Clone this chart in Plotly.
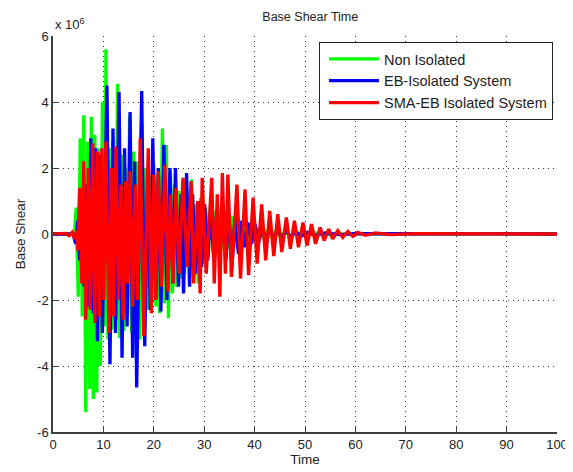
import plotly.graph_objects as go

# ---- data (values in units of 1e6) ----
t_non = [0, 3.8, 4.3, 4.6, 5.0, 5.4, 5.8, 6.1, 6.5, 6.9, 7.3, 7.6, 8.0, 8.3, 8.7, 9.0, 9.4, 9.8, 10.2,
         10.5, 10.9, 11.3, 11.7, 12.1, 12.5, 12.8, 13.2, 13.6, 14.0, 14.4, 14.8, 15.2, 15.6, 16.0, 16.4,
         16.8, 17.2, 17.6, 18.0, 18.4, 18.8, 19.2, 19.6, 20.0, 20.4, 20.8, 21.2, 21.7, 22.1, 22.5, 22.9,
         23.3, 23.7, 24.1, 24.5, 24.9, 25.3, 25.7, 26.1, 26.5, 27.0, 27.5, 27.9, 28.4, 28.8, 29.3, 29.8,
         30.3, 30.8, 31.3, 31.8, 32.3, 32.8, 33.4, 33.9, 34.4, 34.9, 35.4, 35.9, 36.5, 37.0, 37.5, 38.0,
         38.6, 39.1, 39.6, 40.2, 41.0, 41.7, 42.5, 43.3, 44.2, 45.0, 46.0, 47.0, 48.0, 50.0, 52.0, 55.0,
         60.0, 100.0]
v_non = [0, 0, 0.1, 0.8, -1.9, 2.9, -2.5, 3.6, -5.4, 2.8, -4.7, 3.55, -5.0, 3.0, -4.8, 2.6, -4.0, 4.0, -2.8,
         5.6, -3.2, 2.6, -2.9, 2.2, -2.6, 4.55, -3.15, 2.4, -2.95, 2.0, -2.4, 3.6, -3.0, 2.5, -2.7,
         2.2, -3.2, 3.3, -2.6, 2.0, -2.3, 1.8, -2.0, 2.1, -2.2, 1.8, -2.4, 3.2, -2.1, 2.7, -2.55,
         1.9, -1.8, 1.5, -1.6, 1.3, -1.33, 1.6, -1.2, 1.3, -1.0, 1.65, -1.3, 0.9, -1.5, 1.1, -0.9,
         0.8, -0.7, 0.9, -0.6, 0.7, -0.5, 0.9, -0.5, 0.5, -0.45, 0.55, -0.4, 0.6, -0.45, 0.4, -0.3,
         0.3, -0.35, 0.25, -0.2, 0.18, -0.15, 0.13, -0.12, 0.1, -0.08, 0.07, -0.06, 0.05, -0.04, 0.03, -0.02,
         0.01, 0]

t_eb = [0, 4.0, 4.5, 4.9, 5.3, 5.8, 6.2, 6.7, 7.1, 7.5, 8.0, 8.4, 8.8, 9.3, 9.8, 10.7, 11.3, 11.9, 12.4,
        13.1, 13.7, 14.2, 14.7, 15.3, 15.8, 16.2, 16.6, 17.6, 18.2, 18.8, 19.3, 19.8, 20.4, 20.9, 21.4,
        22.0, 22.6, 23.2, 23.8, 24.3, 24.9, 25.4, 25.9, 26.5, 27.1, 27.7, 28.3, 28.9, 29.5, 30.1, 30.7,
        31.3, 31.9, 32.5, 33.1, 33.7, 34.3, 34.9, 35.5, 36.1, 36.8, 37.4, 38.0, 38.7, 39.4, 40.1, 40.8,
        41.5, 42.2, 43.0, 43.8, 44.6, 45.4, 46.3, 47.2, 48.2, 49.2, 50.5, 52.0, 54.0, 57.0, 60.0, 100.0]
v_eb = [0, 0, -0.3, 0.4, -0.8, 0.6, -1.6, 1.5, -2.2, 2.9, -2.4, 2.6, -3.25, 2.4, -3.0, 4.5, -3.95, 3.2, -3.0,
        4.3, -3.75, 2.6, -2.8, 3.7, -3.75, 2.2, -4.65, 4.33, -3.4, 2.0, -2.3, 2.9, -2.0, 2.0, -2.35,
        2.7, -2.0, 2.0, -1.5, 2.0, -1.6, 1.2, -1.8, 1.85, -1.6, 1.2, -1.2, 1.0, -1.0, 0.9, -0.8,
        0.8, -0.8, 0.7, -0.6, 0.7, -0.8, 0.6, -1.0, 0.5, -0.6, 0.4, -0.4, 0.35, -0.3, 0.3, -0.25,
        0.22, -0.2, 0.18, -0.15, 0.15, -0.12, 0.1, -0.1, 0.08, -0.07, 0.05, -0.04, 0.03, -0.02, 0.01, 0]

t_sma = [0, 2.5, 3.2, 3.8, 4.3, 4.7, 4.9, 5.3, 5.7, 6.1, 6.5, 7.0, 7.4, 7.9, 8.3, 8.8, 9.2, 9.7, 10.1,
         10.5, 11.1, 11.6, 12.0, 12.5, 13.0, 13.5, 13.9, 14.4, 14.8, 15.3, 15.8, 16.3, 16.8, 17.3, 18.0,
         18.9, 19.5, 20.0, 20.4, 20.9, 21.5, 22.2, 22.8, 23.3, 23.8, 24.4, 25.0, 25.8, 26.6, 27.4, 27.9,
         28.7, 29.2, 29.6, 30.4, 31.5, 32.0, 32.6, 33.1, 33.6, 34.2, 34.7, 35.4, 36.5, 37.2, 38.1, 38.8,
         39.7, 40.5, 41.4, 42.2, 43.0, 43.8, 44.6, 45.4, 46.3, 47.1, 47.9, 48.7, 49.6, 50.4, 51.3, 52.1,
         53.0, 53.8, 54.7, 55.5, 56.5, 57.5, 58.5, 59.5, 60.5, 62.0, 64.0, 67.0, 72.0, 100.0]
v_sma = [0, 0.02, -0.05, 0.05, -0.15, 0.1, -0.5, 1.4, -1.5, 2.2, -2.6, 2.0, -2.3, 2.75, -2.7, 2.5, -2.5, 2.6, -2.0,
         2.8, -3.0, 2.0, -2.5, 2.65, -2.0, 1.5, -2.6, 1.6, -1.5, 1.9, -2.2, 1.5, -2.0, 2.9, -3.1,
         2.6, -2.4, 1.8, -2.0, 1.9, -1.6, 2.1, -1.75, 1.2, -1.5, 1.4, -1.2, 1.7, -1.0, 1.6, -1.5,
         1.0, -1.8, 1.7, -1.2, 1.7, -1.5, 1.2, -1.9, 1.85, -1.2, 1.8, -1.3, 1.5, -1.35, 1.35, -1.25,
         1.1, -0.9, 0.9, -0.8, 0.7, -0.67, 0.6, -0.55, 0.5, -0.45, 0.4, -0.4, 0.35, -0.35, 0.3, -0.3,
         0.2, -0.2, 0.15, -0.15, 0.1, -0.1, 0.08, -0.07, 0.05, -0.04, 0.03, -0.02, 0.01, 0]

series = [
    ("Non Isolated", t_non, v_non, "#00ff00"),
    ("EB-Isolated System", t_eb, v_eb, "#0000ff"),
    ("SMA-EB Isolated System", t_sma, v_sma, "#ff0000"),
]

x_ticks = [0, 10, 20, 30, 40, 50, 60, 70, 80, 90, 100]
y_ticks = [-6, -4, -2, 0, 2, 4, 6]

FONT = "Liberation Sans, Arial, sans-serif"

fig = go.Figure()
for i, (name, t, v, c) in enumerate(series):
    fig.add_trace(go.Scatter(x=t, y=v, mode="lines", name=name,
                             line=dict(color=c, width=3.3), legendgroup=f"g{i}",
                             hoverinfo="skip"))

axis_common = dict(
    ticks="inside", ticklen=5, tickcolor="#404040",
    showline=True, linecolor="#404040", linewidth=1.5,
    showgrid=True, gridcolor="#333333", gridwidth=1, griddash="1px,4px",
    zeroline=False, automargin=False, ticklabeloverflow="allow",
    tickfont=dict(family=FONT, size=13, color="#222222"),
)

# page body has an 8px margin, so the figure is sized to fit inside the window
fig.update_layout(
    width=565, height=464,
    margin=dict(l=45, r=16, t=28, b=40),
    paper_bgcolor="white", plot_bgcolor="white",
    font=dict(family=FONT, size=12, color="#222222"),
    title=dict(text="Base Shear Time", x=0.535, xanchor="center", y=0.99, yanchor="top",
               font=dict(family=FONT, size=12.5, color="#222222")),
    xaxis=dict(range=[0, 100], tickvals=x_ticks, ticktext=[str(v) for v in x_ticks],
               title=dict(text="Time", standoff=3, font=dict(family=FONT, size=13.5)), **axis_common),
    yaxis=dict(range=[-6, 6], tickvals=y_ticks, ticktext=[str(v) for v in y_ticks],
               title=dict(text="Base Shear", standoff=8, font=dict(family=FONT, size=13.5)), **axis_common),
    legend=dict(x=0.992, y=0.985, xanchor="right", yanchor="top",
                bgcolor="white", bordercolor="#222222", borderwidth=1,
                font=dict(family=FONT, size=14.5, color="#222222"),
                tracegroupgap=0, itemwidth=50, indentation=4),
    showlegend=True,
    annotations=[dict(text="x 10<sup>6</sup>", xref="paper", yref="paper", x=0.0, y=1.0,
                      xanchor="left", yanchor="bottom", yshift=2, showarrow=False,
                      font=dict(family=FONT, size=13, color="#222222"))],
)

fig.write_html("out.html")
